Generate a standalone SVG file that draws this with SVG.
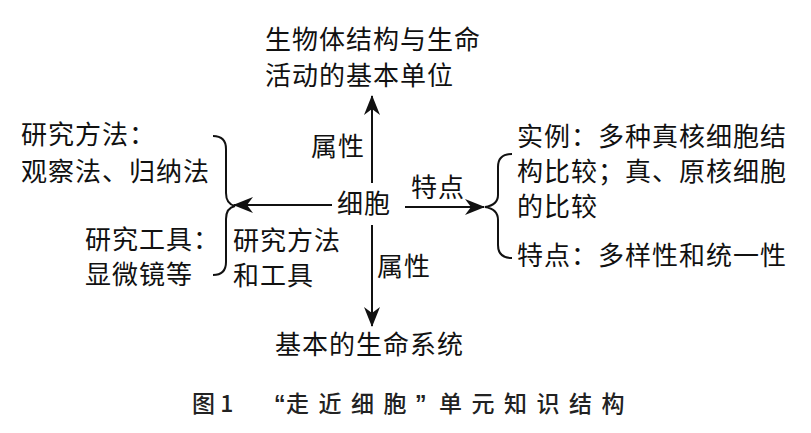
<svg xmlns="http://www.w3.org/2000/svg" width="811" height="433" viewBox="0 0 811 433">
<style>
text{font-family:"Noto Sans CJK SC","Noto Sans",sans-serif;font-size:26px;fill:#111;letter-spacing:1px}
.cap{font-size:23px;letter-spacing:9.5px;fill:#222;font-weight:500}
.q{font-family:"Liberation Sans",sans-serif;letter-spacing:0;font-weight:bold}
.ln{stroke:#111;stroke-width:2;fill:none}
</style>
<defs>
<marker id="ah" viewBox="0 0 20 16" refX="19" refY="8" markerWidth="20" markerHeight="16" markerUnits="userSpaceOnUse" orient="auto">
<path d="M0,0 L20,8 L0,16 L6,8 Z" fill="#111"/>
</marker>
</defs>
<rect width="811" height="433" fill="#fff"/>
<g id="connectors">
<line class="ln" x1="372" y1="183" x2="372" y2="96" marker-end="url(#ah)"/>
<line class="ln" x1="372" y1="225" x2="372" y2="326" marker-end="url(#ah)"/>
<line class="ln" x1="332" y1="205" x2="234" y2="205" marker-end="url(#ah)"/>
<line class="ln" x1="405" y1="207" x2="484" y2="207" marker-end="url(#ah)"/>
<path class="ln" d="M213,136 Q226,136 226,149 L226,193 Q226,204 235,206 Q226,208 226,219 L226,262 Q226,275 213,275"/>
<path class="ln" d="M512,154 Q498,154 498,167 L498,195 Q498,205 485,207 Q498,209 498,220 L498,245 Q498,258 512,258"/>
<text x="311" y="156">属性</text>
<text x="377" y="276">属性</text>
<text x="411" y="197">特点</text>
<text><tspan x="233" y="250">研究方法</tspan><tspan x="233" y="285">和工具</tspan></text>
</g>
<g id="node-top">
<text><tspan x="265" y="49">生物体结构与生命</tspan><tspan x="265" y="85">活动的基本单位</tspan></text>
</g>
<g id="node-bottom">
<text x="275" y="354">基本的生命系统</text>
</g>
<g id="node-cell">
<text x="337" y="213">细胞</text>
</g>
<g id="node-methods">
<text><tspan x="21" y="144">研究方法：</tspan><tspan x="21" y="181">观察法、归纳法</tspan></text>
</g>
<g id="node-tools">
<text><tspan x="85" y="249">研究工具：</tspan><tspan x="85" y="284">显微镜等</tspan></text>
</g>
<g id="node-example">
<text><tspan x="517" y="146">实例：多种真核细胞结</tspan><tspan x="517" y="181">构比较；真、原核细胞</tspan><tspan x="517" y="216">的比较</tspan></text>
</g>
<g id="node-feature">
<text x="517" y="265">特点：多样性和统一性</text>
</g>
<g id="caption">
<text class="cap" y="412"><tspan x="192" style="letter-spacing:0">图 1</tspan><tspan class="q" x="274">“</tspan><tspan x="286">走近细胞</tspan><tspan class="q" x="415">”</tspan><tspan x="439">单元知识结构</tspan></text>
</g>
</svg>
